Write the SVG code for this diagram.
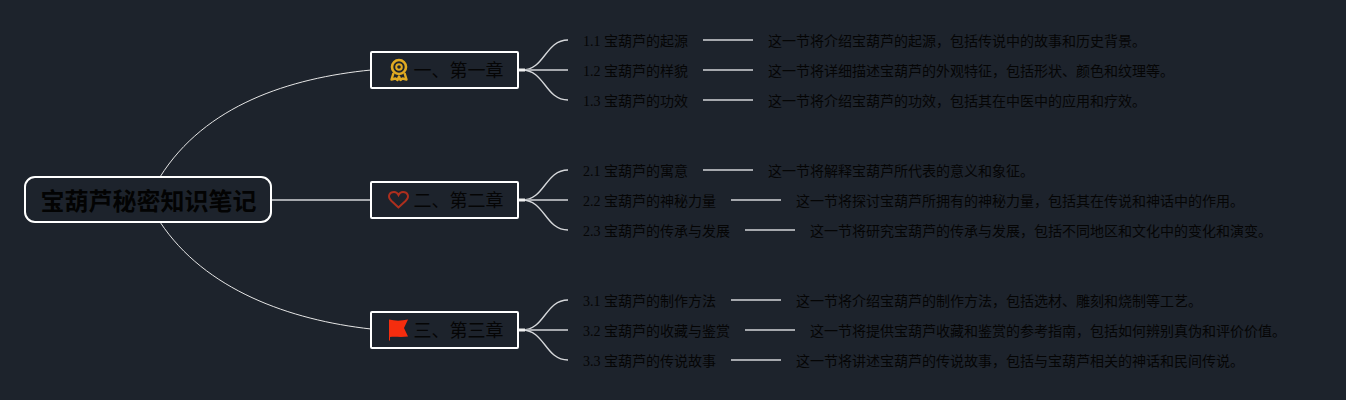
<svg xmlns="http://www.w3.org/2000/svg" width="1346" height="400" viewBox="0 0 1346 400">
<style>
.t{font-family:"Liberation Serif","Noto Sans CJK SC",serif;fill:#050505}
.s{font-size:14px}
.c{font-size:18px}
.r{font-size:24px;font-weight:700;font-family:"Liberation Sans","Noto Sans CJK SC",sans-serif;fill:#030303}
.box{fill:#1d232c;stroke:#fff;stroke-width:2}
.thin{fill:none;stroke:#e6e6e6;stroke-width:1}
.br{fill:none;stroke:#d5d7da;stroke-width:1.400}
.leaf{fill:none;stroke:#a5a8ad;stroke-width:2}
.stub{fill:none;stroke:#f0f0f0;stroke-width:3}
</style>
<rect width="1346" height="400" fill="#1d232c"/>
<g id="connectors">
<path class="thin" d="M160 177C205 105 290 78 371 70"/>
<path class="leaf" d="M272 200H371"/>
<path class="thin" d="M160 222C205 290 290 320 371 329"/>
<g id="ch1-links"><path class="br" d="M522 70C545 70 545 40 568 40"/><path class="leaf" d="M519 70H568"/><path class="br" d="M522 70C545 70 545 100 568 100"/><path class="stub" d="M519 70H525"/><path class="leaf" d="M703 40H753M703 70H753M703 100H753"/></g>
<g id="ch2-links"><path class="br" d="M522 200C545 200 545 170 568 170"/><path class="leaf" d="M519 200H568"/><path class="br" d="M522 200C545 200 545 230 568 230"/><path class="stub" d="M519 200H525"/><path class="leaf" d="M703 170H753M731 200H781M745 230H795"/></g>
<g id="ch3-links"><path class="br" d="M522 330C545 330 545 300 568 300"/><path class="leaf" d="M519 330H568"/><path class="br" d="M522 330C545 330 545 360 568 360"/><path class="stub" d="M519 330H525"/><path class="leaf" d="M731 300H781M745 330H795M731 360H781"/></g>
</g>
<g id="root"><rect class="box" x="25" y="177" width="246" height="45" rx="10"/><text class="r" x="40.500" y="210">宝葫芦秘密知识笔记</text></g>
<g id="chapter1"><rect class="box" x="371" y="52" width="147" height="36" rx="1"/>
<g fill="none" stroke="#e0aa22"><circle cx="399" cy="67" r="7" stroke-width="2.600"/><circle cx="399" cy="67" r="2.800" stroke-width="2"/><path d="M393.500 73L391.500 79.500L395.500 78.500L397.500 80L399 76.500L400.500 80L402.500 78.500L406.500 79.500L404.500 73" stroke-width="2.400" stroke-linejoin="round"/></g>
<text class="t c" x="413.500" y="77">一、第一章</text></g>
<g id="chapter2"><rect class="box" x="371" y="182" width="147" height="36" rx="1"/>
<path d="M398.500 207.500L391.500 201C386.500 196 390 192 394 192C396 192 397.500 193 398.500 195C399.500 193 401 192 403 192C407 192 410.500 196 405.500 201Z" fill="none" stroke="#ad2f1e" stroke-width="2"/>
<text class="t c" x="413.500" y="207">二、第二章</text></g>
<g id="chapter3"><rect class="box" x="371" y="312" width="147" height="36" rx="1"/>
<path d="M389 319.500C395 321 401 321 408 319.500L404 328L408 336.500C401 337.500 396 336.500 390 337V340.500H389Z" fill="#f52d0e"/>
<text class="t c" x="413.500" y="337">三、第三章</text></g>
<g id="s11"><text class="t s" x="583" y="46">1.1 宝葫芦的起源</text></g>
<g id="d11"><text class="t s" x="768" y="46">这一节将介绍宝葫芦的起源，包括传说中的故事和历史背景。</text></g>
<g id="s12"><text class="t s" x="583" y="76">1.2 宝葫芦的样貌</text></g>
<g id="d12"><text class="t s" x="768" y="76">这一节将详细描述宝葫芦的外观特征，包括形状、颜色和纹理等。</text></g>
<g id="s13"><text class="t s" x="583" y="106">1.3 宝葫芦的功效</text></g>
<g id="d13"><text class="t s" x="768" y="106">这一节将介绍宝葫芦的功效，包括其在中医中的应用和疗效。</text></g>
<g id="s21"><text class="t s" x="583" y="176">2.1 宝葫芦的寓意</text></g>
<g id="d21"><text class="t s" x="768" y="176">这一节将解释宝葫芦所代表的意义和象征。</text></g>
<g id="s22"><text class="t s" x="583" y="206">2.2 宝葫芦的神秘力量</text></g>
<g id="d22"><text class="t s" x="796" y="206">这一节将探讨宝葫芦所拥有的神秘力量，包括其在传说和神话中的作用。</text></g>
<g id="s23"><text class="t s" x="583" y="236">2.3 宝葫芦的传承与发展</text></g>
<g id="d23"><text class="t s" x="810" y="236">这一节将研究宝葫芦的传承与发展，包括不同地区和文化中的变化和演变。</text></g>
<g id="s31"><text class="t s" x="583" y="306">3.1 宝葫芦的制作方法</text></g>
<g id="d31"><text class="t s" x="796" y="306">这一节将介绍宝葫芦的制作方法，包括选材、雕刻和烧制等工艺。</text></g>
<g id="s32"><text class="t s" x="583" y="336">3.2 宝葫芦的收藏与鉴赏</text></g>
<g id="d32"><text class="t s" x="810" y="336">这一节将提供宝葫芦收藏和鉴赏的参考指南，包括如何辨别真伪和评价价值。</text></g>
<g id="s33"><text class="t s" x="583" y="366">3.3 宝葫芦的传说故事</text></g>
<g id="d33"><text class="t s" x="796" y="366">这一节将讲述宝葫芦的传说故事，包括与宝葫芦相关的神话和民间传说。</text></g>
</svg>
